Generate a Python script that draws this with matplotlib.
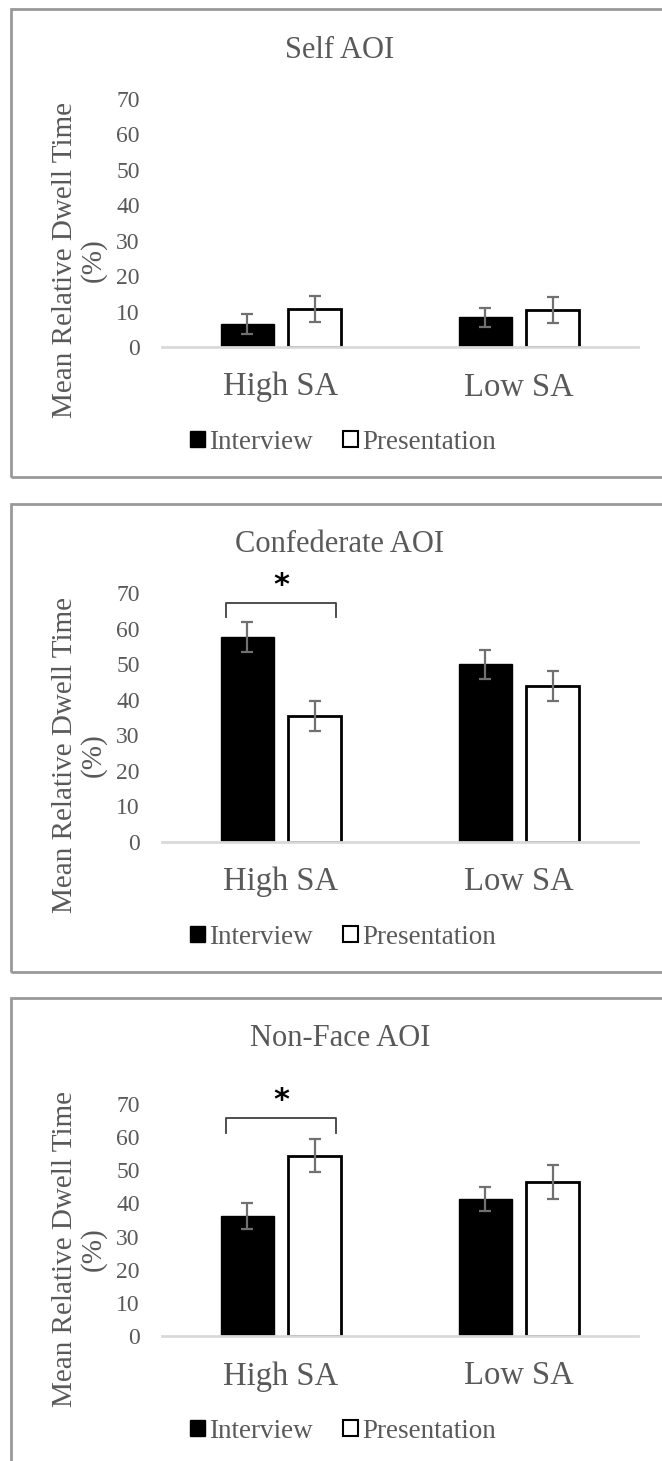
import numpy as np
import matplotlib
matplotlib.use('Agg')
import matplotlib.pyplot as plt
from matplotlib.patches import Rectangle

plt.rcParams['font.family'] = ['Liberation Serif', 'DejaVu Serif']

# data
categories = ['High SA', 'Low SA']
titles = ['Self AOI', 'Confederate AOI', 'Non-Face AOI']
series_names = ['Interview', 'Presentation']

interview_self = [6.5, 8.4]
interview_self_err = [2.7, 2.7]
presentation_self = [10.7, 10.4]
presentation_self_err = [3.7, 3.7]

interview_conf = [57.6, 50.0]
interview_conf_err = [4.2, 4.1]
presentation_conf = [35.4, 43.9]
presentation_conf_err = [4.3, 4.2]

interview_nonface = [36.2, 41.4]
interview_nonface_err = [3.8, 3.6]
presentation_nonface = [54.4, 46.5]
presentation_nonface_err = [5.0, 5.1]

yticks = [0, 10, 20, 30, 40, 50, 60, 70]
ylabel = 'Mean Relative Dwell Time\n(%)'

# significance bracket (panel index -> bracket height, leg end, star height)
sig = {1: (67.2, 63.3, 72.0), 2: (65.9, 61.3, 71.0)}

TEXT = '#595959'
W, H = 662, 1461
fig = plt.figure(figsize=(W / 100, H / 100), dpi=100)

# pixel layout of each panel: (box top, box bottom, axis zero, axis top)
layout = [(9, 477, 347, 99), (504, 972, 842, 593), (998, 1475, 1336, 1104)]
ax_left, ax_right = 162, 638

def fy(p):
    return 1 - p / H

data = [
    (interview_self, interview_self_err, presentation_self, presentation_self_err),
    (interview_conf, interview_conf_err, presentation_conf, presentation_conf_err),
    (interview_nonface, interview_nonface_err, presentation_nonface, presentation_nonface_err),
]

x = np.arange(len(categories))
bw = 0.22
off = 0.141

for i, (box_top, box_bot, zero, top) in enumerate(layout):
    # grey frame round each panel
    fig.patches.append(Rectangle((11 / W, fy(box_bot)), 700 / W, (box_bot - box_top) / H,
                                 transform=fig.transFigure, fill=False,
                                 edgecolor='#999999', lw=2))

    ax = fig.add_axes([ax_left / W, fy(zero), (ax_right - ax_left) / W, (zero - top) / H])
    iv, ive, pv, pve = data[i]
    ax.bar(x - off, iv, bw, color='black', edgecolor='black', lw=1)
    ax.bar(x + off, pv, bw, color='white', edgecolor='black', lw=2)
    ax.errorbar(x - off, iv, yerr=ive, fmt='none', ecolor='#707070', elinewidth=1.6,
                capsize=4.5, capthick=1.6)
    ax.errorbar(x + off, pv, yerr=pve, fmt='none', ecolor='#707070', elinewidth=1.6,
                capsize=4.5, capthick=1.6)

    ax.set_xlim(-0.5, 1.5)
    ax.set_ylim(0, 70)
    ax.set_yticks(yticks)
    ax.set_yticklabels([str(t) for t in yticks], fontsize=17, color=TEXT)
    ax.set_xticks(x)
    ax.set_xticklabels(categories, fontsize=23.5, color=TEXT)
    ax.tick_params(axis='y', length=0, pad=16)
    ax.tick_params(axis='x', length=0, pad=18)
    for s in ['top', 'left', 'right']:
        ax.spines[s].set_visible(False)
    ax.spines['bottom'].set_color('#d9d9d9')
    ax.spines['bottom'].set_linewidth(2)
    ax.spines['bottom'].set_zorder(5)

    if i in sig:
        h, leg, star = sig[i]
        ax.plot([-0.23, -0.23, 0.23, 0.23], [leg, h, h, leg], color='#404040', lw=1.3,
                clip_on=False)
        ax.text(0.0, star, '*', ha='center', va='center', fontsize=22, weight='bold',
                family='DejaVu Sans', color='black', clip_on=False)

    fig.text(340 / W, fy(box_top + 41), titles[i], ha='center', va='center',
             fontsize=22, color=TEXT)
    fig.text(79 / W, fy(zero - 87), ylabel, rotation=90, ha='center', va='center',
             multialignment='center', fontsize=21, color=TEXT, linespacing=1.1)

    handles = [Rectangle((0, 0), 1, 1, facecolor='black', edgecolor='black'),
               Rectangle((0, 0), 1, 1, facecolor='white', edgecolor='black', lw=1.5)]
    fig.legend(handles, series_names, loc='center', bbox_to_anchor=(343 / W, fy(zero + 95)),
               ncol=2, frameon=False, fontsize=19.5, labelcolor=TEXT,
               handlelength=0.55, handleheight=0.55, handletextpad=0.15,
               columnspacing=1.1, borderpad=0)

fig.savefig('out.png', dpi=100)
